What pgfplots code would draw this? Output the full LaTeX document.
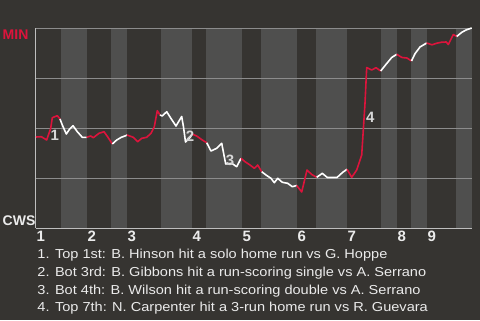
\documentclass[border=0pt]{standalone}
\usepackage{pgfplots}
\pgfplotsset{compat=1.18}
\usepackage{fontspec}
\setmainfont{Liberation Sans}
\newfontfamily\legfont[FakeStretch=1.12]{Liberation Sans}
\definecolor{bgc}{RGB}{54,52,49}
\definecolor{bandc}{RGB}{79,79,78}
\definecolor{gridc}{RGB}{140,140,140}
\definecolor{axc}{RGB}{190,190,190}
\definecolor{minred}{RGB}{220,20,60}
\definecolor{txt}{RGB}{235,235,235}
\definecolor{ann}{RGB}{215,215,215}
\pgfplotsset{layers/mylayers/.define layer set={bgpic,axis background,axis grid,axis ticks,axis lines,axis tick labels,pre main,main,axis descriptions,axis foreground}{}}
\begin{document}
\begin{tikzpicture}
\begin{axis}[set layers=mylayers, at={(36pt,92pt)}, anchor=south west, scale only axis,
  width=436pt, height=200pt, xmin=0, xmax=436, ymin=0, ymax=100,
  axis lines=left, axis line style={draw=axc, line width=1pt, -},
  ytick={25,50,75,100}, yticklabels={}, ymajorgrids, grid style={gridc, line width=1pt},
  xtick={0,51,91,156,206,261,311,361,391},
  xticklabels={1,2,3,4,5,6,7,8,9},
  major tick length=0pt,
  xticklabel style={anchor=north west, inner sep=0pt, yshift=-3pt, xshift=0.5pt,
    font=\fontsize{15}{15}\selectfont\bfseries, text=txt},
  clip=false]
\begin{pgfonlayer}{bgpic}
\fill[bgc] (rel axis cs:-0.0825688,-0.46) rectangle (rel axis cs:1.0183486,1.14);
\end{pgfonlayer}
\begin{pgfonlayer}{axis background}
\fill[bandc] (axis cs:25,0) rectangle (axis cs:51,100);
\fill[bandc] (axis cs:75,0) rectangle (axis cs:91,100);
\fill[bandc] (axis cs:125,0) rectangle (axis cs:156,100);
\fill[bandc] (axis cs:170,0) rectangle (axis cs:206,100);
\fill[bandc] (axis cs:225,0) rectangle (axis cs:261,100);
\fill[bandc] (axis cs:280,0) rectangle (axis cs:311,100);
\fill[bandc] (axis cs:345,0) rectangle (axis cs:361,100);
\fill[bandc] (axis cs:375,0) rectangle (axis cs:391,100);
\fill[bandc] (axis cs:420,0) rectangle (axis cs:436,100);
\end{pgfonlayer}
\pgfplotsset{every axis plot/.append style={line width=1.6pt, line join=round}}
\addplot[minred] coordinates {(0,45.5) (5.3,45.65) (10.7,44) (14.7,49.85) (16.3,55.15) (18.7,55.65) (21.3,56.15) (24,54.5)};
\addplot[white] coordinates {(24,54.5) (26.3,51.5) (30.3,47) (33.7,49.5) (37,51.15) (41.3,48.15) (46.3,45.35) (50.7,45.35)};
\addplot[minred] coordinates {(50.7,45.35) (54.7,46) (57.3,45.15) (63,47.35) (68,48.15) (72,45.35) (76.3,42)};
\addplot[white] coordinates {(76.3,42) (80.7,44) (85.3,45.35) (89.7,46.15) (91,46.5)};
\addplot[minred] coordinates {(91,46.5) (97.3,45.35) (101.7,43.15) (105.7,44.85) (110.7,45.35) (115,47.35) (118.3,50.65) (121.3,58.65) (124,56.5)};
\addplot[white] coordinates {(124,56.5) (126.3,56) (130.7,58.15) (135,54.75) (140,51) (145.7,55.75) (147.5,50.5) (149.5,43) (154,45.25) (156,47)};
\addplot[minred] coordinates {(156,47) (160.7,46) (166.3,44) (170.7,42.65)};
\addplot[white] coordinates {(170.7,42.65) (175,38.5) (180.7,39.85) (185.7,42.35) (189.7,32) (195.7,32.35) (200.7,30.65) (205,34.85)};
\addplot[minred] coordinates {(205,34.85) (209,33.15) (214,31.5) (218.3,29.85) (221.7,31.5) (225.7,28.15)};
\addplot[white] coordinates {(225.7,28.15) (230,26.5) (235,24.85) (238.3,22.65) (241.7,24.85) (246.3,22.85) (251.7,22.35) (256.3,20.65) (260.7,21.25)};
\addplot[minred] coordinates {(260.7,21.25) (265.7,18) (271,29) (275.7,26.75) (280.7,25.35)};
\addplot[white] coordinates {(280.7,25.35) (286.3,27.35) (291.3,25.25) (301,25.25) (306.7,27.85) (311,29.35)};
\addplot[minred] coordinates {(311,29.35) (315.7,25.35) (320.7,29) (325.7,36.5) (327.3,49) (329,62.35) (330.7,80.25) (335.7,79) (340,80.15) (344.7,78.5)};
\addplot[white] coordinates {(344.7,78.5) (350.7,82.25) (355.7,85.25) (360.7,86.85)};
\addplot[minred] coordinates {(360.7,86.85) (366,85.25) (371,85) (375.5,83.5)};
\addplot[white] coordinates {(375.5,83.5) (379,87.15) (384,90.5) (390.7,92.5)};
\addplot[minred] coordinates {(390.7,92.5) (396,91.6) (400.7,92.4) (405.7,92.9) (410.3,93) (412.3,91.75) (417.3,96.75) (420.7,95.75)};
\addplot[white] coordinates {(420.7,95.75) (425.5,97.75) (430,99) (435.7,100)};
\begin{scope}[every node/.style={anchor=base, inner sep=0pt, font=\fontsize{15}{15}\selectfont\bfseries, text=ann}]
\node at (axis cs:18.8,44) {1};
\node at (axis cs:154,43.15) {2};
\node at (axis cs:194,31.5) {3};
\node at (axis cs:334.3,52.85) {4};
\end{scope}
\end{axis}
\node[anchor=base west, inner sep=0pt, font=\fontsize{14}{14}\selectfont\bfseries, text=minred] at (2.5pt,280.7pt) {MIN};
\node[anchor=base west, inner sep=0pt, font=\fontsize{14}{14}\selectfont\bfseries, text=txt] at (2.5pt,95pt) {CWS};
\begin{scope}[every node/.style={anchor=base west, inner sep=0pt, font=\legfont\fontsize{13}{13}\selectfont, text=txt}]
\node at (37.3pt,61.7pt) {1. Top 1st: B. Hinson hit a solo home run vs G. Hoppe};
\node at (37.3pt,44pt) {2. Bot 3rd: B. Gibbons hit a run-scoring single vs A. Serrano};
\node at (37.3pt,26pt) {3. Bot 4th: B. Wilson hit a run-scoring double vs A. Serrano};
\node at (37.3pt,8.3pt) {4. Top 7th: N. Carpenter hit a 3-run home run vs R. Guevara};
\end{scope}
\end{tikzpicture}
\end{document}
